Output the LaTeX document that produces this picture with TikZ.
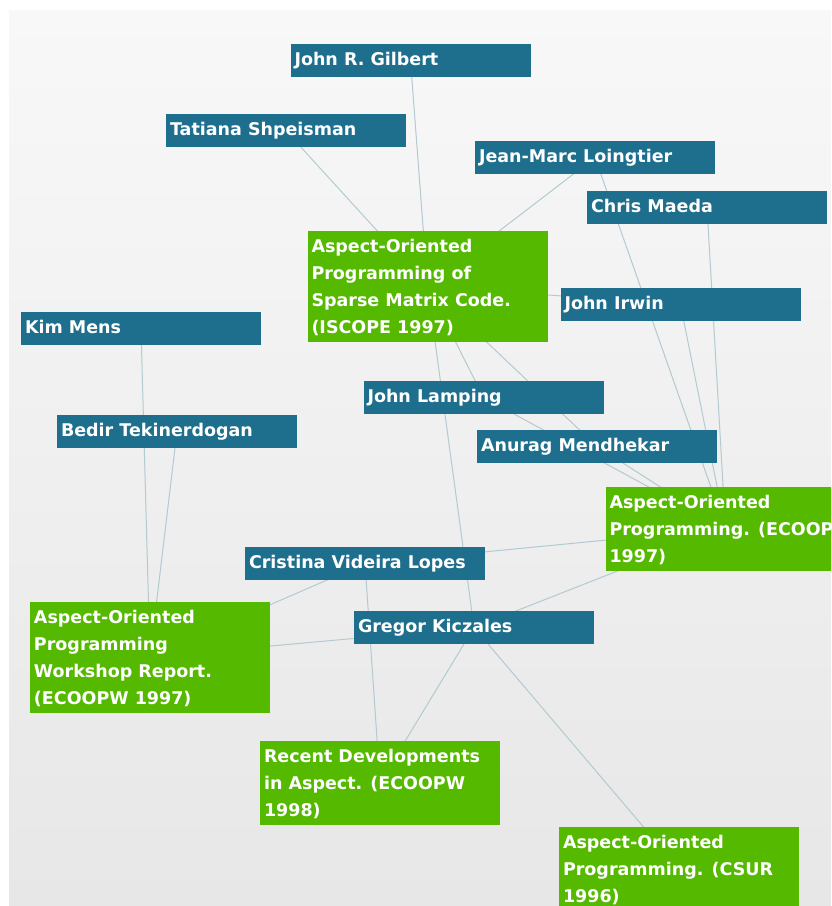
\documentclass[tikz,border=0pt]{standalone}
\usepackage{fontspec}
\setmainfont{DejaVu Sans}
\definecolor{authblue}{RGB}{30,111,141}
\definecolor{papergreen}{RGB}{85,185,0}
\definecolor{edgecol}{RGB}{178,202,210}
\definecolor{bgtop}{RGB}{248,248,248}
\definecolor{bgbot}{RGB}{231,231,231}
\pgfdeclarelayer{bglayer}
\pgfdeclarelayer{edgelayer}
\pgfsetlayers{bglayer,edgelayer,main}
\newcommand{\bxc}[2]{\parbox[c][#1][t]{232pt}{\rule{0pt}{21.5pt}#2}}
\tikzset{
  box/.style={anchor=north west, inner xsep=4pt, inner ysep=0pt, outer sep=0pt,
    text=white, font=\fontsize{17.5}{27}\selectfont\bfseries},
  author/.style={box, fill=authblue},
  paper/.style={box, fill=papergreen},
  link/.style={draw=edgecol, line width=1pt}
}
\begin{document}
\begin{tikzpicture}[x=1pt,y=-1pt]
\useasboundingbox (0,0) rectangle (831,906);
\clip (0,0) rectangle (831,906);
\node[author] (gilbert)  at (290.5,44)   {\bxc{33pt}{John R. Gilbert}};
\node[author] (tatiana)  at (166,114.3)  {\bxc{33pt}{Tatiana Shpeisman}};
\node[author] (jeanmarc) at (475,141)    {\bxc{33pt}{Jean-Marc Loingtier}};
\node[author] (chris)    at (587,190.7)  {\bxc{33pt}{Chris Maeda}};
\node[paper]  (iscope)   at (307.5,230.5){\bxc{111pt}{Aspect-Oriented\\Programming of\\Sparse Matrix Code.\\(ISCOPE 1997)}};
\node[author] (irwin)    at (560.5,288.3){\bxc{33pt}{John Irwin}};
\node[author] (kim)      at (21,312)     {\bxc{33pt}{Kim Mens}};
\node[author] (lamping)  at (363.5,381)  {\bxc{33pt}{John Lamping}};
\node[author] (bedir)    at (57,414.7)   {\bxc{33pt}{Bedir Tekinerdogan}};
\node[author] (anurag)   at (477,430)    {\bxc{33pt}{Anurag Mendhekar}};
\node[paper]  (ecoop)    at (605.5,486.5){\bxc{84pt}{Aspect-Oriented\\Programming. (ECOOP\\1997)}};
\node[author] (cristina) at (245,547)    {\bxc{33pt}{Cristina Videira Lopes}};
\node[paper]  (workshop) at (30,601.5)   {\bxc{111pt}{Aspect-Oriented\\Programming\\Workshop Report.\\(ECOOPW 1997)}};
\node[author] (gregor)   at (354,611)    {\bxc{33pt}{Gregor Kiczales}};
\node[paper]  (recent)   at (260,740.5)  {\bxc{84pt}{Recent Developments\\in Aspect. (ECOOPW\\1998)}};
\node[paper]  (csur)     at (559,826.7)  {\bxc{84pt}{Aspect-Oriented\\Programming. (CSUR\\1996)}};
\begin{pgfonlayer}{bglayer}
  \fill[white] (0,0) rectangle (831,906);
  \shade[top color=bgtop, bottom color=bgbot] (9,10) rectangle (831,906);
\end{pgfonlayer}
\begin{pgfonlayer}{edgelayer}
  \draw[link] (gilbert.center) -- (iscope.center);
  \draw[link] (tatiana.center) -- (iscope.center);
  \draw[link] (jeanmarc.center) -- (iscope.center);
  \draw[link] (irwin.center) -- (iscope.center);
  \draw[link] (lamping.center) -- (iscope.center);
  \draw[link] (anurag.center) -- (iscope.center);
  \draw[link] (gregor.center) -- (iscope.center);
  \draw[link] (jeanmarc.center) -- (ecoop.center);
  \draw[link] (chris.center) -- (ecoop.center);
  \draw[link] (irwin.center) -- (ecoop.center);
  \draw[link] (lamping.center) -- (ecoop.center);
  \draw[link] (anurag.center) -- (ecoop.center);
  \draw[link] (cristina.center) -- (ecoop.center);
  \draw[link] (gregor.center) -- (ecoop.center);
  \draw[link] (kim.center) -- (workshop.center);
  \draw[link] (bedir.center) -- (workshop.center);
  \draw[link] (cristina.center) -- (workshop.center);
  \draw[link] (gregor.center) -- (workshop.center);
  \draw[link] (cristina.center) -- (recent.center);
  \draw[link] (gregor.center) -- (recent.center);
  \draw[link] (gregor.center) -- (csur.center);
\end{pgfonlayer}
\end{tikzpicture}
\end{document}
